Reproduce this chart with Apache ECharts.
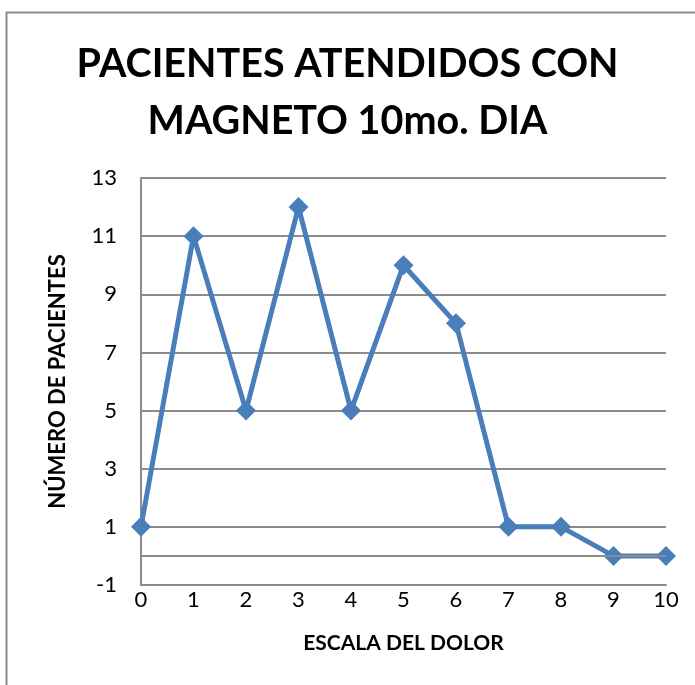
<!DOCTYPE html>
<html>
<head>
<meta charset="utf-8">
<script src="https://cdn.jsdelivr.net/npm/echarts@6/dist/echarts.min.js"></script>
<style>
  html, body { margin: 0; padding: 0; background: #fff; }
  #chart { width: 695px; height: 685px; }
</style>
</head>
<body>
<div id="chart"></div>
<script>
// Pain scale (0-10) and number of patients at each level
const painScale = [0, 1, 2, 3, 4, 5, 6, 7, 8, 9, 10];
const patients = [1, 11, 5, 12, 5, 10, 8, 1, 1, 0, 0];

const chartTitle = 'PACIENTES ATENDIDOS CON\nMAGNETO 10mo. DIA';
const xName = 'ESCALA DEL DOLOR';
const yName = 'NÚMERO DE PACIENTES';

const points = painScale.map((x, i) => [x, patients[i]]);

const chart = echarts.init(document.getElementById('chart'));
const gridColor = '#8c8c8c';
const font = 'Lato, "Open Sans", sans-serif';

chart.setOption({
  animation: false,
  backgroundColor: '#fff',
  graphic: [{
    type: 'rect',
    shape: { x: 6.5, y: 12.5, width: 720, height: 700 },
    style: { fill: 'none', stroke: '#8c8c8c', lineWidth: 2 }
  }],
  title: {
    text: chartTitle,
    left: 'center',
    top: 31,
    textStyle: {
      fontFamily: font,
      fontWeight: 'bold',
      fontSize: 39.5,
      lineHeight: 57,
      color: '#000'
    }
  },
  grid: { left: 141, right: 29, top: 178, bottom: 100 },
  xAxis: {
    type: 'value',
    min: 0,
    max: 10,
    interval: 1,
    name: xName,
    nameLocation: 'middle',
    nameGap: 48,
    nameTextStyle: { fontFamily: font, fontWeight: 'bold', fontSize: 21, color: '#000' },
    axisLine: { show: true, onZero: false, lineStyle: { color: gridColor, width: 2 } },
    axisTick: { show: false },
    splitLine: { show: false },
    axisLabel: { fontFamily: font, fontSize: 22, color: '#000', margin: 4 }
  },
  yAxis: {
    type: 'value',
    min: -1,
    max: 13,
    interval: 2,
    name: yName,
    nameLocation: 'middle',
    nameGap: 72,
    nameTextStyle: { fontFamily: font, fontWeight: 'bold', fontSize: 22, color: '#000' },
    axisLine: { show: true, lineStyle: { color: gridColor, width: 2 } },
    axisTick: { show: false },
    splitLine: { show: true, lineStyle: { color: gridColor, width: 2 } },
    axisLabel: { fontFamily: font, fontSize: 22, color: '#000', margin: 24 }
  },
  series: [{
    type: 'line',
    data: points,
    symbol: 'diamond',
    symbolSize: 20,
    lineStyle: { color: '#4a7ebb', width: 5 },
    itemStyle: { color: '#4a7ebb' },
    markLine: {
      silent: true,
      symbol: 'none',
      label: { show: false },
      lineStyle: { color: gridColor, width: 2, type: 'solid' },
      data: [{ yAxis: 0 }]
    },
    z: 3
  }]
});
</script>
</body>
</html>
